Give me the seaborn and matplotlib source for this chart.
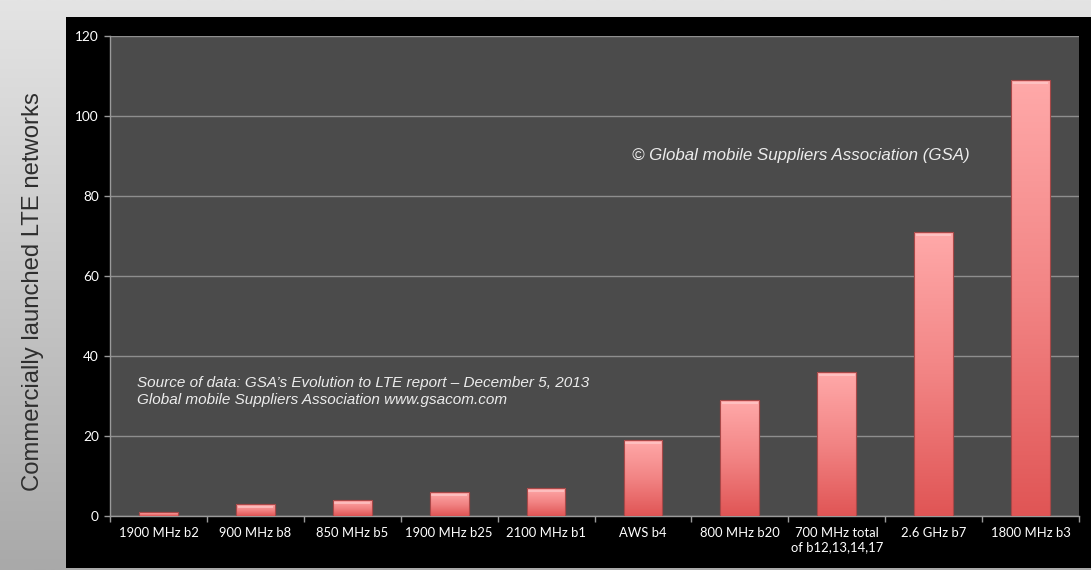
import numpy as np
import pandas as pd
import matplotlib
matplotlib.use("Agg")
import matplotlib.pyplot as plt
import seaborn as sns
from matplotlib.colors import LinearSegmentedColormap
from matplotlib.patches import Rectangle

# Commercially launched LTE networks per frequency band
bands = [
    "1900 MHz b2", "900 MHz b8", "850 MHz b5", "1900 MHz b25", "2100 MHz b1",
    "AWS b4", "800 MHz b20", "700 MHz total\nof b12,13,14,17", "2.6 GHz b7",
    "1800 MHz b3",
]
networks = [1, 3, 4, 6, 7, 19, 29, 36, 71, 109]
y_ticks = [0, 20, 40, 60, 80, 100, 120]

df = pd.DataFrame({"band": bands, "networks": networks})

sns.set_theme(style="dark")
plt.rcParams["font.family"] = ["Lato", "DejaVu Sans"]

W, H = 1091, 570
fig = plt.figure(figsize=(W / 100, H / 100), dpi=100)

# light grey slide background with a soft vertical shade
bg = fig.add_axes([0, 0, 1, 1], zorder=-10)
bg.set_axis_off()
shade = np.linspace(0, 1, 256).reshape(-1, 1)
bg_cmap = LinearSegmentedColormap.from_list("bgshade", ["#e4e4e4", "#a9a9a9"])
bg.imshow(shade, aspect="auto", cmap=bg_cmap, extent=[0, 1, 0, 1], origin="upper")
bg.add_patch(Rectangle((66 / W, 2 / H), 1 - 66 / W, 551 / H, facecolor="black",
                       edgecolor="none", transform=bg.transAxes))
bg.set_xlim(0, 1)
bg.set_ylim(0, 1)

ax = fig.add_axes([110 / W, (H - 516) / H, 969 / W, 480 / H])
ax.set_facecolor("#4b4b4b")

sns.barplot(data=df, x="band", y="networks", ax=ax, width=0.4,
            color="#ee7a7a", edgecolor="#a84848", linewidth=0.8, zorder=3)

# vertical pink-to-red gradient inside each bar
bar_cmap = LinearSegmentedColormap.from_list("barshade", ["#e05555", "#f28484", "#ffa9a9"])
grad = np.linspace(0, 1, 256).reshape(-1, 1)
for patch in ax.patches:
    x0, y0 = patch.get_x(), patch.get_y()
    w, h = patch.get_width(), patch.get_height()
    im = ax.imshow(grad, aspect="auto", cmap=bar_cmap, origin="lower",
                   extent=[x0, x0 + w, y0, y0 + h], zorder=3.5)
    im.set_clip_path(patch)
    # bevel highlight along the top of the bar
    hl = min(1.0, h * 0.35)
    ax.add_patch(Rectangle((x0 + w * 0.04, y0 + h - hl), w * 0.92, hl * 0.55,
                           facecolor="#ffd6d6", edgecolor="none", alpha=0.55, zorder=3.6))
    ax.add_patch(Rectangle((x0, y0), w, h, facecolor="none", edgecolor="#a84848",
                           linewidth=0.8, zorder=3.7))

ax.set_xlim(-0.5, len(bands) - 0.5)
ax.set_ylim(0, 120)
ax.set_yticks(y_ticks)
ax.set_yticklabels([str(v) for v in y_ticks])
ax.set_xticks(range(len(bands)))
ax.set_xticklabels(bands, linespacing=1.25)
ax.set_xticks(np.arange(-0.5, len(bands), 1), minor=True)
ax.set_xlabel("")
ax.set_ylabel("")

ax.grid(axis="y", color="#8e8e8e", linewidth=1.0, zorder=0)
ax.grid(axis="x", visible=False)
ax.set_axisbelow(True)

ax.tick_params(axis="x", which="major", length=0, pad=8, labelsize=9.4,
               labelcolor="white")
ax.tick_params(axis="x", which="minor", length=4, width=1, color="#9a9a9a",
               direction="out", bottom=True)
ax.tick_params(axis="y", which="major", length=4, width=1, color="#9a9a9a",
               pad=4, labelsize=9.8, labelcolor="white", left=True)

for side in ("top", "right"):
    ax.spines[side].set_visible(False)
for side in ("left", "bottom"):
    ax.spines[side].set_visible(True)
    ax.spines[side].set_color("#9a9a9a")
    ax.spines[side].set_linewidth(1.0)

note_font = ["Liberation Sans", "DejaVu Sans"]
ax.text(0.539, 0.752, "\u00a9 Global mobile Suppliers Association (GSA)",
        transform=ax.transAxes, ha="left", va="center", fontsize=12.2,
        style="italic", color="#ececec", family=note_font)
ax.text(0.028, 0.292,
        "Source of data: GSA\u2019s Evolution to LTE report \u2013 December 5, 2013\n"
        "Global mobile Suppliers Association www.gsacom.com",
        transform=ax.transAxes, ha="left", va="top", fontsize=11,
        style="italic", color="#ececec", family=note_font, linespacing=1.3)

fig.text(33 / W, 1 - 292 / H, "Commercially launched LTE networks", rotation=90,
         ha="center", va="center", fontsize=17.2, color="#2e2e2e",
         family=note_font)

fig.savefig("out.png", dpi=100)
